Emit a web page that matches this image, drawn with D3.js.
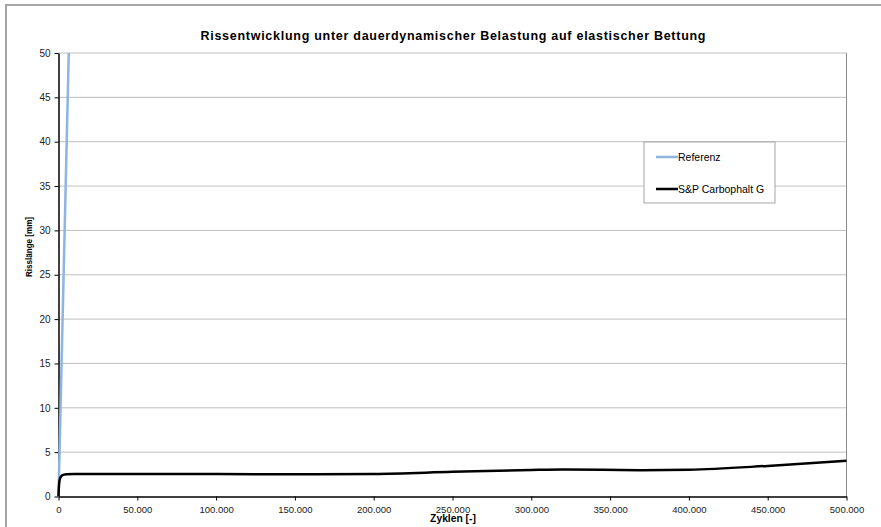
<!DOCTYPE html>
<html>
<head>
<meta charset="utf-8">
<script src="https://cdn.jsdelivr.net/npm/d3@7"></script>
<style>
  body { margin: 0; background: #fff; }
  text { font-family: "Liberation Sans", Arial, sans-serif; }
</style>
</head>
<body>
<svg id="chart" width="881" height="527"></svg>
<script>
// Daten
const referenzX = [0, 6500];
const referenzY = [0, 50];
const carboX = [0, 300, 1000, 2500, 5000, 10000, 50000, 100000, 150000, 200000, 250000, 300000, 320000, 370000, 400000, 450000, 500000];
const carboY = [0, 1.2, 2.05, 2.4, 2.52, 2.55, 2.55, 2.53, 2.5, 2.55, 2.78, 3.0, 3.05, 2.97, 3.02, 3.45, 4.02];
const xTicks = [0, 50000, 100000, 150000, 200000, 250000, 300000, 350000, 400000, 450000, 500000];
const yTicks = [0, 5, 10, 15, 20, 25, 30, 35, 40, 45, 50];
const seriesNames = ["Referenz", "S&P Carbophalt G"];
const seriesColors = ["#8db4e2", "#000000"];

const svg = d3.select("#chart");
const margin = { top: 53, right: 35, bottom: 31, left: 58.5 },
    width = 846.5 - margin.left,
    height = 496.5 - margin.top;

// Rahmen
svg.append("rect")
    .attr("x", 6).attr("y", 5)
    .attr("width", 900).attr("height", 560)
    .attr("fill", "none")
    .attr("stroke", "#a6a6a6")
    .attr("stroke-width", 2);

const g = svg.append("g").attr("transform", `translate(${margin.left},${margin.top})`);

const x = d3.scaleLinear().domain([0, 500000]).range([0, width]);
const y = d3.scaleLinear().domain([0, 50]).range([height, 0]);

// Gitter
g.selectAll(".grid")
    .data(yTicks.slice(1))
    .enter()
    .append("line")
    .attr("x1", 0).attr("x2", width)
    .attr("y1", d => y(d)).attr("y2", d => y(d))
    .attr("stroke", "#bfbfbf")
    .attr("stroke-width", 1);

g.append("line")
    .attr("x1", width).attr("x2", width)
    .attr("y1", 0).attr("y2", height)
    .attr("stroke", "#8c8c8c");

const fmt = d => d3.format(",")(d).replace(/,/g, ".");

// Achsen
const xAxis = g.append("g")
    .attr("transform", `translate(0,${height})`)
    .call(d3.axisBottom(x).tickValues(xTicks).tickFormat(fmt).tickSize(4).tickSizeOuter(0));
const yAxis = g.append("g")
    .call(d3.axisLeft(y).tickValues(yTicks).tickSize(4).tickSizeOuter(0));

[xAxis, yAxis].forEach(a => {
    a.select(".domain").attr("stroke", "#000").attr("stroke-width", 1.5);
    a.selectAll(".tick line").attr("stroke", "#000");
    a.selectAll("text")
        .style("font-family", "Liberation Sans, Arial, sans-serif")
        .attr("fill", "#222");
});
xAxis.selectAll("text").style("font-size", "9.5px").attr("dy", "0.95em");
yAxis.selectAll("text").style("font-size", "10px").attr("x", -8);

// Linien
svg.append("clipPath").attr("id", "clip")
    .append("rect").attr("x", -2).attr("y", 0).attr("width", width + 4).attr("height", height + 2);

const line = d3.line()
    .x(d => x(d[0]))
    .y(d => y(d[1]))
    .curve(d3.curveMonotoneX);

const referenz = referenzX.map((d, i) => [d, referenzY[i]]);
const carbo = carboX.map((d, i) => [d, carboY[i]]);

g.append("path")
    .datum(referenz)
    .attr("clip-path", "url(#clip)")
    .attr("d", d3.line().x(d => x(d[0])).y(d => y(d[1])))
    .attr("fill", "none")
    .attr("stroke", seriesColors[0])
    .attr("stroke-width", 2.5);

g.append("path")
    .datum(carbo)
    .attr("clip-path", "url(#clip)")
    .attr("d", line)
    .attr("fill", "none")
    .attr("stroke", seriesColors[1])
    .attr("stroke-width", 2.5);

// Titel
svg.append("text")
    .attr("x", 453).attr("y", 40)
    .attr("text-anchor", "middle")
    .attr("textLength", 505)
    .attr("lengthAdjust", "spacing")
    .style("font-size", "12.5px")
    .style("font-weight", "bold")
    .text("Rissentwicklung unter dauerdynamischer Belastung auf elastischer Bettung");

svg.append("text")
    .attr("x", 453).attr("y", 522)
    .attr("text-anchor", "middle")
    .style("font-size", "10.3px")
    .style("font-weight", "bold")
    .text("Zyklen [-]");

svg.append("text")
    .attr("transform", "translate(32,247) rotate(-90)")
    .attr("text-anchor", "middle")
    .attr("textLength", 60)
    .attr("lengthAdjust", "spacingAndGlyphs")
    .style("font-size", "9.5px")
    .style("font-weight", "bold")
    .text("Risslänge [mm]");

// Legende
const legend = svg.append("g").attr("transform", "translate(644,142)");
legend.append("rect")
    .attr("width", 131).attr("height", 61)
    .attr("fill", "#fff")
    .attr("stroke", "#a6a6a6");
seriesNames.forEach((name, i) => {
    const ly = 15 + i * 32;
    legend.append("line")
        .attr("x1", 12).attr("x2", 34)
        .attr("y1", ly).attr("y2", ly)
        .attr("stroke", seriesColors[i])
        .attr("stroke-width", 2.5);
    legend.append("text")
        .attr("x", 34).attr("y", ly + 3.7)
        .style("font-size", "10.5px")
        .text(name);
});
</script>
</body>
</html>
